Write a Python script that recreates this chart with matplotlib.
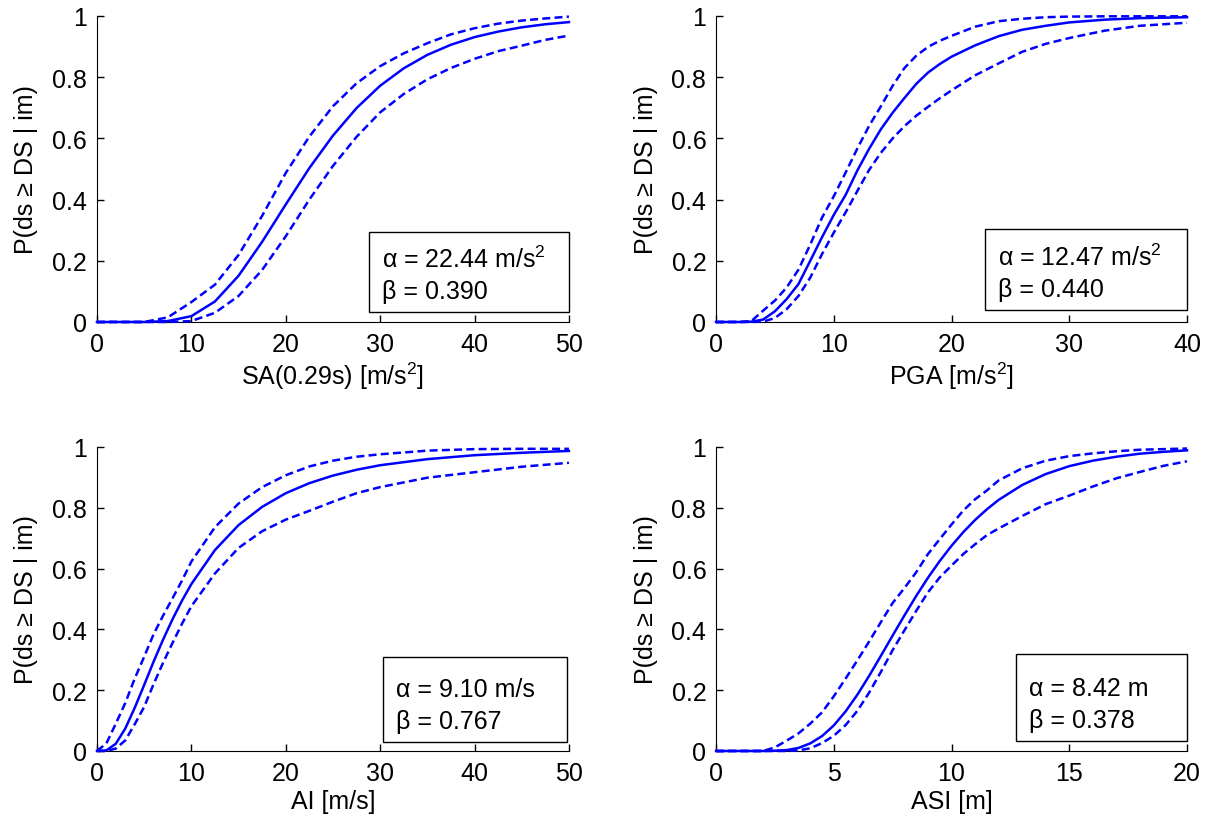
import matplotlib
matplotlib.use("Agg")
import matplotlib.pyplot as plt
from matplotlib.patches import Rectangle

plt.rcParams['font.family'] = ['Liberation Sans', 'DejaVu Sans']
plt.rcParams['font.size'] = 18
plt.rcParams['mathtext.fontset'] = 'custom'
plt.rcParams['mathtext.rm'] = 'Liberation Sans'
plt.rcParams['mathtext.default'] = 'regular'

# fragility curves: median (solid) and bounds (dashed)
sa_x = [0, 2.5, 5, 7.5, 10, 12.5, 15, 17.5, 20, 22.5, 25, 27.5, 30, 32.5, 35, 37.5, 40, 42.5, 45, 47.5, 50]
sa_mid = [0, 0, 0, 0.003, 0.019, 0.067, 0.151, 0.262, 0.384, 0.503, 0.609, 0.699, 0.772, 0.829, 0.873,
          0.906, 0.931, 0.949, 0.963, 0.973, 0.980]
sa_up = [0, 0, 0, 0.015, 0.065, 0.122, 0.219, 0.347, 0.487, 0.606, 0.705, 0.780, 0.836, 0.878, 0.911,
         0.940, 0.960, 0.975, 0.985, 0.992, 0.998]
sa_lo = [0, 0, 0, 0, 0.003, 0.030, 0.085, 0.170, 0.280, 0.400, 0.510, 0.605, 0.685, 0.745, 0.793,
         0.830, 0.860, 0.885, 0.903, 0.922, 0.936]

pga_x = [0, 2, 3, 4, 5, 6, 7, 8, 9, 10, 11, 12, 13, 14, 15, 16, 17, 18, 19, 20, 22, 24, 26, 28, 30, 33, 36, 40]
pga_mid = [0, 0, 0.001, 0.008, 0.035, 0.075, 0.124, 0.200, 0.277, 0.350, 0.415, 0.495, 0.566, 0.630,
           0.684, 0.732, 0.778, 0.815, 0.843, 0.867, 0.904, 0.934, 0.955, 0.968, 0.979, 0.988, 0.993, 0.996]
pga_up = [0, 0, 0.003, 0.037, 0.070, 0.113, 0.171, 0.253, 0.341, 0.411, 0.488, 0.567, 0.641, 0.705,
          0.772, 0.830, 0.870, 0.899, 0.919, 0.935, 0.965, 0.983, 0.991, 0.996, 0.998, 0.999, 0.999, 0.999]
pga_lo = [0, 0, 0, 0.001, 0.013, 0.042, 0.085, 0.145, 0.222, 0.292, 0.358, 0.428, 0.497, 0.553,
          0.600, 0.640, 0.674, 0.703, 0.731, 0.757, 0.806, 0.845, 0.883, 0.909, 0.928, 0.952, 0.968, 0.978]

ai_x = [0, 1, 2, 3, 4, 5, 6, 7, 8, 9, 10, 12.5, 15, 17.5, 20, 22.5, 25, 27.5, 30, 35, 40, 45, 50]
ai_mid = [0, 0.002, 0.024, 0.074, 0.142, 0.217, 0.294, 0.366, 0.433, 0.494, 0.549, 0.661, 0.743, 0.803,
          0.848, 0.881, 0.906, 0.925, 0.940, 0.960, 0.973, 0.981, 0.987]
ai_up = [0, 0.025, 0.090, 0.158, 0.238, 0.310, 0.384, 0.445, 0.502, 0.560, 0.623, 0.736, 0.814, 0.868,
         0.907, 0.936, 0.955, 0.968, 0.976, 0.988, 0.993, 0.994, 0.994]
ai_lo = [0, 0, 0.008, 0.035, 0.088, 0.145, 0.220, 0.290, 0.355, 0.418, 0.476, 0.584, 0.668, 0.723,
         0.761, 0.790, 0.820, 0.848, 0.868, 0.899, 0.917, 0.935, 0.948]

asi_x = [0, 2, 2.5, 3, 3.5, 4, 4.5, 5, 5.5, 6, 6.5, 7, 7.5, 8, 8.5, 9, 9.5, 10, 10.5, 11, 11.5, 12,
         13, 14, 15, 16, 17, 18, 19, 20]
asi_mid = [0, 0, 0.001, 0.003, 0.010, 0.025, 0.049, 0.084, 0.130, 0.185, 0.247, 0.313, 0.380, 0.446,
           0.510, 0.570, 0.625, 0.675, 0.720, 0.760, 0.795, 0.826, 0.875, 0.911, 0.937, 0.955, 0.968,
           0.978, 0.984, 0.989]
asi_up = [0, 0, 0.012, 0.034, 0.058, 0.090, 0.127, 0.180, 0.238, 0.298, 0.360, 0.424, 0.487, 0.536,
          0.588, 0.648, 0.697, 0.745, 0.791, 0.828, 0.857, 0.890, 0.930, 0.955, 0.970, 0.979, 0.986,
          0.991, 0.993, 0.995]
asi_lo = [0, 0, 0, 0, 0.002, 0.009, 0.026, 0.050, 0.085, 0.132, 0.192, 0.260, 0.332, 0.397, 0.461,
          0.522, 0.571, 0.610, 0.648, 0.680, 0.710, 0.732, 0.773, 0.812, 0.840, 0.870, 0.897, 0.918,
          0.938, 0.953]

y_ticks = [0, 0.2, 0.4, 0.6, 0.8, 1]
y_tick_labels = ['0', '0.2', '0.4', '0.6', '0.8', '1']

alpha_txt = ['\u03b1 = 22.44 m/s$^{2}$', '\u03b1 = 12.47 m/s$^{2}$', '\u03b1 = 9.10 m/s', '\u03b1 = 8.42 m']
beta_txt = ['\u03b2 = 0.390', '\u03b2 = 0.440', '\u03b2 = 0.767', '\u03b2 = 0.378']
x_labels = ['SA(0.29s) [m/s$^{2}$]', 'PGA [m/s$^{2}$]', 'AI [m/s]', 'ASI [m]']
x_max = [50, 40, 50, 20]
x_step = [10, 10, 10, 5]


def plot_fragility(ax, x, mid, up, lo, k, box):
    ax.plot(x, mid, color='b', lw=1.8, clip_on=False, zorder=3)
    for yy in (up, lo):
        ax.plot(x, yy, color='b', lw=1.8, dashes=(3.2, 1.7), clip_on=False, zorder=3)
    ax.set_xlim(0, x_max[k])
    ax.set_ylim(0, 1)
    ax.set_xticks(range(0, x_max[k] + 1, x_step[k]))
    ax.set_yticks(y_ticks)
    ax.set_yticklabels(y_tick_labels)
    ax.spines['top'].set_visible(False)
    ax.spines['right'].set_visible(False)
    ax.tick_params(direction='in', length=5, width=1, pad=7)
    ax.set_xlabel(x_labels[k], labelpad=3)
    ax.set_ylabel('P(ds \u2265 DS | im)', labelpad=10)
    # parameter box
    x0, y0, x1, y1 = box
    ax.add_patch(Rectangle((x0, y0), x1 - x0, y1 - y0, transform=ax.transAxes,
                           fill=False, ec='black', lw=1.0, clip_on=False, zorder=4))
    ax.text(x0 + 0.027, y0 + 0.175, alpha_txt[k], transform=ax.transAxes, va='center', ha='left')
    ax.text(x0 + 0.027, y0 + 0.068, beta_txt[k], transform=ax.transAxes, va='center', ha='left')


fig = plt.figure(figsize=(12.12, 8.29), dpi=100)
ax1 = fig.add_axes([0.080, 0.6104, 0.3894, 0.3691])
ax2 = fig.add_axes([0.5908, 0.6104, 0.3886, 0.3691])
ax3 = fig.add_axes([0.080, 0.0929, 0.3894, 0.3667])
ax4 = fig.add_axes([0.5908, 0.0929, 0.3886, 0.3667])

plot_fragility(ax1, sa_x, sa_mid, sa_up, sa_lo, 0, (0.576, 0.033, 1.0, 0.294))
plot_fragility(ax2, pga_x, pga_mid, pga_up, pga_lo, 1, (0.571, 0.039, 1.0, 0.304))
plot_fragility(ax3, ai_x, ai_mid, ai_up, ai_lo, 2, (0.606, 0.030, 0.996, 0.310))
plot_fragility(ax4, asi_x, asi_mid, asi_up, asi_lo, 3, (0.637, 0.033, 1.0, 0.320))

fig.savefig('out.png', dpi=100)
